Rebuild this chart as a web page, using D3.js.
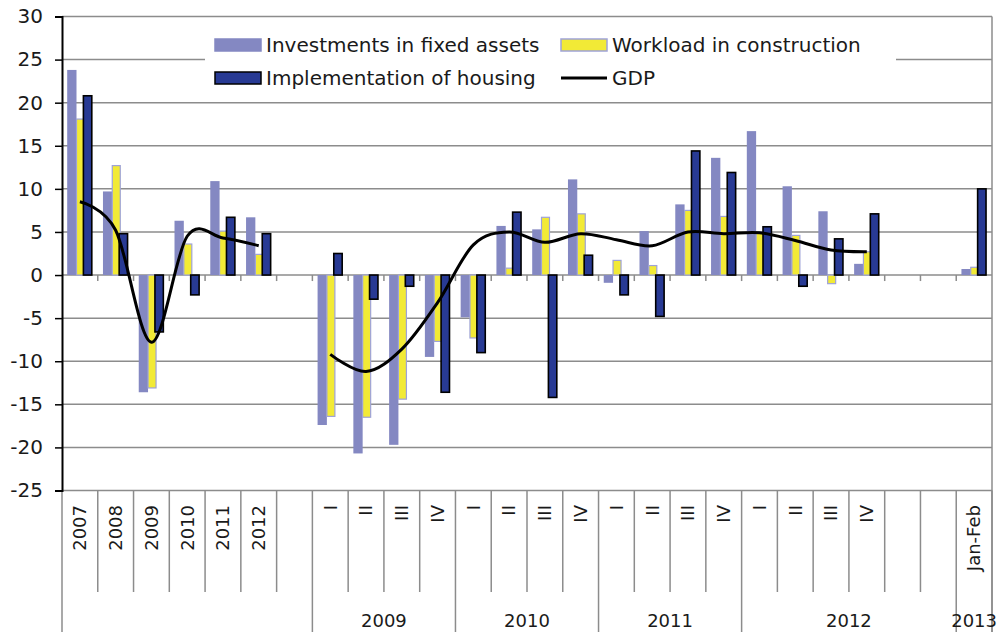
<!DOCTYPE html>
<html>
<head>
<meta charset="utf-8">
<script src="https://cdn.jsdelivr.net/npm/d3@7"></script>
<style>
  body { margin: 0; background: #fff; }
  svg { display: block; font-family: "DejaVu Sans", sans-serif; }
</style>
</head>
<body>
<svg width="1002" height="637"></svg>
<script>
// categories on the x axis (empty strings are spacer slots)
const categories = ["2007", "2008", "2009", "2010", "2011", "2012", "",
    "I", "II", "III", "IV", "I", "II", "III", "IV",
    "I", "II", "III", "IV", "I", "II", "III", "IV", "", "", "Jan-Feb"];

// second level of the axis
const groupLabels = ["", "2009", "2010", "2011", "2012", "2013"];
const groupSpans = [7, 4, 4, 4, 6, 1];

const yTicks = [-25, -20, -15, -10, -5, 0, 5, 10, 15, 20, 25, 30];

const seriesNames = ["Investments in fixed assets", "Workload in construction", "Implementation of housing", "GDP"];

const investments = [23.8, 9.7, -13.6, 6.3, 10.9, 6.7, null,
    -17.4, -20.7, -19.7, -9.5, -4.9, 5.7, 5.3, 11.1,
    -0.9, 5.1, 8.2, 13.6, 16.7, 10.3, 7.4, 1.3, null, null, 0.7];
const workload = [18.1, 12.7, -13.1, 3.6, 5.1, 2.4, null,
    -16.4, -16.5, -14.4, -7.7, -7.3, 0.8, 6.7, 7.1,
    1.7, 1.1, 7.5, 6.8, 5.0, 4.6, -1.0, 2.7, null, null, 0.9];
const housing = [20.8, 4.8, -6.6, -2.3, 6.7, 4.8, null,
    2.5, -2.8, -1.3, -13.6, -9.0, 7.3, -14.2, 2.3,
    -2.3, -4.8, 14.4, 11.9, 5.6, -1.3, 4.2, 7.1, null, null, 10.0];
const gdp = [8.5, 5.2, -7.8, 4.5, 4.3, 3.4, null,
    -9.2, -11.2, -8.6, -3.2, 3.5, 5.0, 3.8, 4.8,
    4.1, 3.4, 5.0, 4.8, 4.9, 4.0, 2.9, 2.7, null, null, null];

const gridColor = "#8c8c8c";
const textColor = "#1a1a1a";

const svg = d3.select("svg");
svg.append("rect").attr("width", 1002).attr("height", 637).attr("fill", "#fff");

const x = d3.scaleBand().domain(d3.range(categories.length)).range([62, 992]);
const y = d3.scaleLinear().domain([-25, 30]).range([490.5, 16.5]);
const bw = x.bandwidth();

// horizontal gridlines
svg.append("g").selectAll("line")
    .data(yTicks)
    .join("line")
    .attr("x1", 62).attr("x2", 992)
    .attr("y1", d => y(d)).attr("y2", d => y(d))
    .attr("stroke", gridColor).attr("stroke-width", 1.5);

// right border
svg.append("line")
    .attr("x1", 992).attr("x2", 992).attr("y1", y(30)).attr("y2", 632)
    .attr("stroke", gridColor).attr("stroke-width", 1.5);

// legend background hides the gridline behind it
svg.append("rect")
    .attr("x", 205).attr("y", 21).attr("width", 691).attr("height", 78)
    .attr("fill", "#fff");

// small ticks on the zero line
svg.append("g").selectAll("line")
    .data(d3.range(1, categories.length))
    .join("line")
    .attr("x1", i => 62 + i * bw).attr("x2", i => 62 + i * bw)
    .attr("y1", y(0)).attr("y2", y(0) + 6)
    .attr("stroke", gridColor).attr("stroke-width", 1.5);

// category dividers below the plot
let groupEdges = [0];
groupSpans.forEach(s => groupEdges.push(groupEdges[groupEdges.length - 1] + s));
svg.append("g").selectAll("line")
    .data(d3.range(0, categories.length + 1))
    .join("line")
    .attr("x1", i => 62 + i * bw).attr("x2", i => 62 + i * bw)
    .attr("y1", y(-25))
    .attr("y2", i => groupEdges.includes(i) ? 632 : 592)
    .attr("stroke", gridColor).attr("stroke-width", 1.5);

// category labels (rotated)
svg.append("g").selectAll("text")
    .data(categories)
    .join("text")
    .attr("transform", (d, i) => `translate(${x(i) + bw / 2},505) rotate(-90)`)
    .attr("text-anchor", "end")
    .attr("dy", "0.35em")
    .attr("font-size", 18)
    .attr("fill", textColor)
    .text(d => d);

// group labels
svg.append("g").selectAll("text")
    .data(groupLabels)
    .join("text")
    .attr("x", (d, i) => 62 + (groupEdges[i] + groupSpans[i] / 2) * bw)
    .attr("y", 627)
    .attr("text-anchor", "middle")
    .attr("font-size", 18)
    .attr("fill", textColor)
    .text(d => d);

// bars, one series after another
const barSeries = [
    { values: investments, off: 5.2, w: 9.3, fill: "#8488c2", stroke: "none", sw: 0 },
    { values: workload, off: 14.5, w: 8, fill: "#f2ea36", stroke: "#9ea2d8", sw: 1.2 },
    { values: housing, off: 21.4, w: 8.4, fill: "#283a94", stroke: "#000", sw: 1.6 }
];
barSeries.forEach(s => {
    svg.append("g").selectAll("rect")
        .data(s.values.map((v, i) => ({ v, i })).filter(d => d.v != null))
        .join("rect")
        .attr("x", d => x(d.i) + s.off)
        .attr("width", s.w)
        .attr("y", d => y(Math.max(0, d.v)))
        .attr("height", d => Math.abs(y(d.v) - y(0)))
        .attr("fill", s.fill)
        .attr("stroke", s.stroke)
        .attr("stroke-width", s.sw);
});

// GDP smoothed line
const line = d3.line()
    .defined(d => d.v != null)
    .x(d => x(d.i) + bw / 2)
    .y(d => y(d.v))
    .curve(d3.curveCardinal);
svg.append("path")
    .datum(gdp.map((v, i) => ({ v, i })))
    .attr("d", line)
    .attr("fill", "none")
    .attr("stroke", "#000")
    .attr("stroke-width", 3)
    .attr("stroke-linejoin", "round");

// y axis
const yAxis = svg.append("g")
    .attr("transform", "translate(62,0)")
    .call(d3.axisLeft(y).tickValues(yTicks).tickFormat(d => String(d)).tickSize(7).tickPadding(12));
yAxis.select(".domain").attr("stroke", "#000").attr("stroke-width", 2);
yAxis.selectAll(".tick line").attr("stroke", "#000").attr("stroke-width", 1.5);
yAxis.selectAll(".tick text")
    .attr("font-size", 20)
    .attr("font-family", "DejaVu Sans, sans-serif")
    .attr("fill", textColor);

// legend
const legendItems = [
    { name: seriesNames[0], x: 215, y: 45, type: "rect", fill: "#8488c2", stroke: "#8488c2" },
    { name: seriesNames[1], x: 561, y: 45, type: "rect", fill: "#f2ea36", stroke: "#9ea2d8" },
    { name: seriesNames[2], x: 215, y: 78, type: "rect", fill: "#283a94", stroke: "#000" },
    { name: seriesNames[3], x: 561, y: 78, type: "line" }
];
const legend = svg.append("g");
legendItems.forEach(it => {
    if (it.type === "rect") {
        legend.append("rect")
            .attr("x", it.x).attr("y", it.y - 6).attr("width", 46).attr("height", 12)
            .attr("fill", it.fill).attr("stroke", it.stroke).attr("stroke-width", 1.5);
    } else {
        legend.append("line")
            .attr("x1", it.x).attr("x2", it.x + 46).attr("y1", it.y).attr("y2", it.y)
            .attr("stroke", "#000").attr("stroke-width", 3);
    }
    legend.append("text")
        .attr("x", it.x + 51).attr("y", it.y)
        .attr("dy", "0.35em")
        .attr("font-size", 20)
        .attr("fill", textColor)
        .text(it.name);
});
</script>
</body>
</html>
